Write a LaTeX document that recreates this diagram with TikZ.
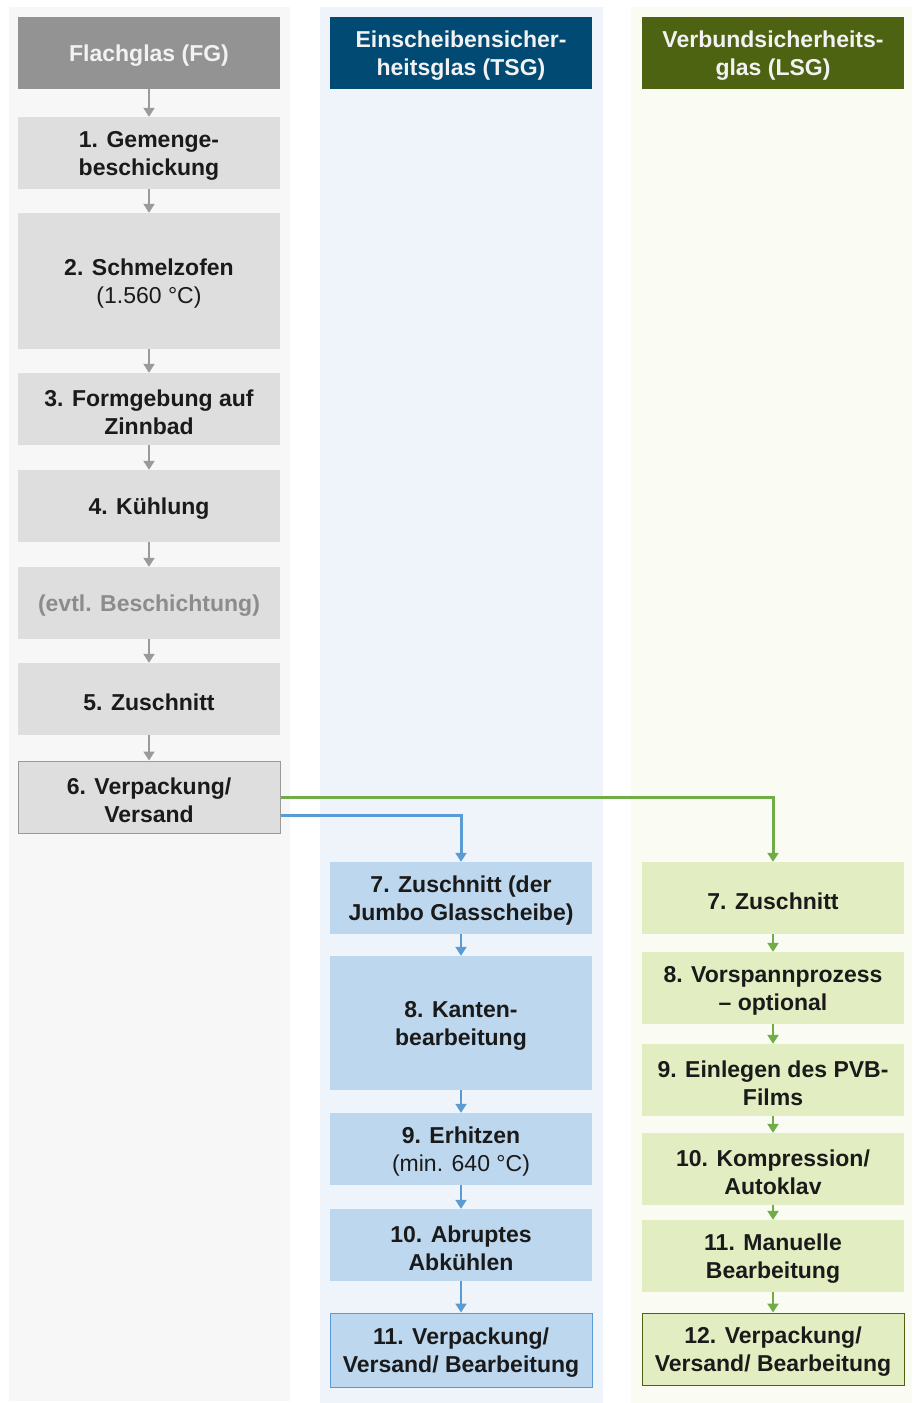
\documentclass[tikz,border=0pt]{standalone}
\usepackage{fontspec}
\setmainfont{Liberation Sans}
\usetikzlibrary{arrows.meta,calc}
\definecolor{bgA}{HTML}{F7F7F7}
\definecolor{bgB}{HTML}{EFF4FA}
\definecolor{bgC}{HTML}{FAFBF2}
\definecolor{hA}{HTML}{939393}
\definecolor{hB}{HTML}{004A74}
\definecolor{hC}{HTML}{4E6312}
\definecolor{fA}{HTML}{DEDEDF}
\definecolor{fB}{HTML}{BDD7EE}
\definecolor{fC}{HTML}{E2EEC2}
\definecolor{aA}{HTML}{9A9A9A}
\definecolor{aB}{HTML}{5B9BD5}
\definecolor{aC}{HTML}{70AD47}
\definecolor{txt}{HTML}{1A1A1A}
\definecolor{htxt}{HTML}{F2F2F2}
\definecolor{dimtxt}{HTML}{8C8C8C}
\newcommand\tp{\rule{0pt}{22.5pt}}
\tikzset{
  box/.style={rectangle, minimum width=262pt, minimum height=72pt, inner sep=2pt,
    align=center, text=txt, font=\fontsize{23}{28}\selectfont\bfseries},
  hdr/.style={box, text=htxt},
  gbox/.style={box, fill=fA},
  bbox/.style={box, fill=fB},
  lbox/.style={box, fill=fC},
  garr/.style={draw=aA, line width=2pt, -{Triangle[width=11pt,length=9pt]}},
  barr/.style={draw=aB, line width=2.5pt, -{Triangle[width=11pt,length=9pt]}},
  larr/.style={draw=aC, line width=2.5pt, -{Triangle[width=11pt,length=9pt]}},
}
\begin{document}
\begin{tikzpicture}[x=1pt,y=-1pt]
\useasboundingbox (0,0) rectangle (914,1403);
\fill[white] (0,0) rectangle (914,1403);
% column backgrounds
\fill[bgA] (9,7) rectangle (290,1401);
\fill[bgB] (320,7) rectangle (603,1403);
\fill[bgC] (631,7) rectangle (912,1403);
% headers
\node[hdr, fill=hA] (h1) at (149,53) {\tp Flachglas (FG)};
\node[hdr, fill=hB] (h2) at (461,53) {\tp Einscheibensicher-\\heitsglas (TSG)};
\node[hdr, fill=hC] (h3) at (773,53) {\tp Verbundsicherheits-\\glas (LSG)};
% column 1
\node[gbox] (g1) at (149,153) {\tp 1. Gemenge-\\beschickung};
\node[gbox, minimum height=136pt] (g2) at (149,281) {\tp 2. Schmelzofen\\\mdseries(1.560 °C)};
\node[gbox] (g3) at (149,409) {\tp 3. Formgebung auf\\Zinnbad};
\node[gbox] (g4) at (149,506) {\tp 4. Kühlung};
\node[gbox, text=dimtxt] (ge) at (149,603) {\tp (evtl. Beschichtung)};
\node[gbox] (g5) at (149,699) {\tp 5. Zuschnitt};
\node[gbox, draw=aA, line width=1pt] (g6) at (149,797) {\tp 6. Verpackung/\\Versand};
% column 2
\node[bbox] (b7) at (461,898) {\tp 7. Zuschnitt (der\\Jumbo Glasscheibe)};
\node[bbox, minimum height=134pt] (b8) at (461,1023) {\tp 8. Kanten-\\bearbeitung};
\node[bbox] (b9) at (461,1149) {\tp 9. Erhitzen\\\mdseries(min. 640 °C)};
\node[bbox] (b10) at (461,1245) {\tp 10. Abruptes\\Abkühlen};
\node[bbox, draw=aB, line width=1pt, minimum height=74pt] (b11) at (461,1350) {\tp 11. Verpackung/\\Versand/ Bearbeitung};
% column 3
\node[lbox] (l7) at (773,898) {\tp 7. Zuschnitt};
\node[lbox] (l8) at (773,988) {\tp 8. Vorspannprozess\\– optional};
\node[lbox] (l9) at (773,1080) {\tp 9. Einlegen des PVB-\\Films};
\node[lbox] (l10) at (773,1169) {\tp 10. Kompression/\\Autoklav};
\node[lbox] (l11) at (773,1256) {\tp 11. Manuelle\\Bearbeitung};
\node[lbox, draw=hC, line width=1pt] (l12) at (773,1349) {\tp 12. Verpackung/\\Versand/ Bearbeitung};
% arrows column 1
\draw[garr] (h1) -- (g1);
\draw[garr] (g1) -- (g2);
\draw[garr] (g2) -- (g3);
\draw[garr] (g3) -- (g4);
\draw[garr] (g4) -- (ge);
\draw[garr] (ge) -- (g5);
\draw[garr] (g5) -- (g6);
% branches
\draw[larr, line width=3pt] (g6.east) -| (l7.north);
\draw[barr, line width=3pt] ($(g6.east)+(0,18)$) -| (b7.north);
% arrows column 2
\draw[barr] (b7) -- (b8);
\draw[barr] (b8) -- (b9);
\draw[barr] (b9) -- (b10);
\draw[barr] (b10) -- (b11);
% arrows column 3
\draw[larr] (l7) -- (l8);
\draw[larr] (l8) -- (l9);
\draw[larr] (l9) -- (l10);
\draw[larr] (l10) -- (l11);
\draw[larr] (l11) -- (l12);
\end{tikzpicture}
\end{document}
